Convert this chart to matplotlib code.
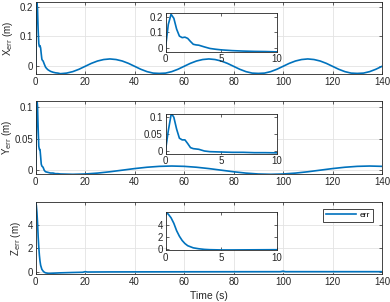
import matplotlib
matplotlib.use("Agg")
import matplotlib.pyplot as plt
import numpy as np

plt.rcParams['font.family'] = ['Liberation Sans', 'DejaVu Sans']

# ---- data ----
t_dense = [0, 0.25, 0.5, 0.75, 1.0, 1.25, 1.5, 1.75, 2.0, 2.25, 2.5, 2.75, 3.0,
           3.5, 4.0, 4.5, 5.0, 6.0, 7.0, 8.0, 9.0]
x_dense = [0.0, 0.15, 0.216, 0.19, 0.12, 0.075, 0.065, 0.068, 0.06, 0.04, 0.022,
           0.018, 0.016, 0.005, -0.005, -0.010, -0.014, -0.019, -0.022, -0.024, -0.025]
t_x_tail = [10, 12.5, 15, 17.5, 20, 22.5, 25, 27.5, 30, 32.5, 35, 37.5, 40, 42.5, 45, 47.5,
            50, 52.5, 55, 57.5, 60, 62.5, 65, 67.5, 70, 72.5, 75, 77.5, 80, 82.5, 85, 87.5,
            90, 92.5, 95, 97.5, 100, 102.5, 105, 107.5, 110, 112.5, 115, 117.5, 120, 122.5,
            125, 127.5, 130, 132.5, 135, 137.5, 140]
x_tail = [-0.027, -0.025, -0.020, -0.012, -0.002, 0.008, 0.016, 0.021, 0.023, 0.021, 0.016,
          0.008, -0.002, -0.012, -0.020, -0.025,
          -0.026, -0.025, -0.020, -0.012, -0.002, 0.008, 0.016, 0.021, 0.023, 0.021, 0.016,
          0.008, -0.002, -0.012, -0.020, -0.025,
          -0.026, -0.025, -0.020, -0.012, -0.002, 0.008, 0.016, 0.021, 0.023, 0.021, 0.016,
          0.008, -0.002, -0.012, -0.020, -0.025,
          -0.026, -0.025, -0.020, -0.012, -0.002]

t_y = [0, 0.25, 0.5, 0.6, 0.75, 1.0, 1.25, 1.5, 1.75, 2.0, 2.25, 2.5, 3.0, 3.5, 4.0,
       5.0, 6.0, 7.0, 8.0, 9.0, 10, 15, 20, 25, 30, 35, 40, 45, 50, 55, 60, 65, 70, 75,
       80, 85, 90, 95, 100, 105, 110, 115, 120, 125, 130, 135, 140]
y_err = [0.002, 0.06, 0.107, 0.108, 0.10, 0.065, 0.038, 0.033, 0.033, 0.022, 0.010, 0.007,
         0.005, 0.0, -0.002, -0.003, -0.004, -0.004, -0.005, -0.005, -0.0055,
         -0.006, -0.0055, -0.0041, -0.0020, 0.0005, 0.0030, 0.0051, 0.0065, 0.007, 0.0065,
         0.0051, 0.0030, 0.0005, -0.0020, -0.0041, -0.0055, -0.006, -0.0055, -0.0041,
         -0.0020, 0.0005, 0.0030, 0.0051, 0.0065, 0.007, 0.0065]

t_z = [0, 0.25, 0.5, 0.75, 1.0, 1.25, 1.5, 1.75, 2.0, 2.5, 3.0, 3.5, 4.0, 5.0, 6.0, 7.0,
       8.0, 10, 15, 19, 20, 21, 30, 60, 99, 100, 101, 140]
z_err = [6.0, 5.7, 5.1, 4.2, 3.0, 2.1, 1.4, 0.9, 0.55, 0.2, 0.05, -0.05, -0.1, -0.14, -0.14,
         -0.13, -0.12, -0.1, -0.07, -0.05, 0.0, -0.03, -0.02, -0.01, 0.0, 0.04, 0.0, 0.0]

t_x = t_dense + t_x_tail
x_err = x_dense + x_tail

labels = ['X$_{\\rm err}$ (m)', 'Y$_{\\rm err}$ (m)', 'Z$_{\\rm err}$ (m)']
yticks_list = [[0, 0.1, 0.2], [0, 0.05, 0.1], [0, 2, 4]]
ytick_labels = [['0', '0.1', '0.2'], ['0', '0.05', '0.1'], ['0', '2', '4']]
xticks_main = [0, 20, 40, 60, 80, 100, 120, 140]
xticks_inset = [0, 5, 10]
main_ylims = [(-0.028, 0.216), (-0.006, 0.109), (-0.2, 5.95)]
inset_ylims = [(-0.026, 0.222), (-0.008, 0.109), (-0.15, 6.1)]
legend_label = 'err'

# ---- styling ----
W, H = 390, 302
fig = plt.figure(figsize=(W / 100, H / 100), dpi=100)
blue = '#0072BD'
axcol = '#262626'
fs = 7

main_pos = [[0.0915, 0.755, 0.888, 0.2384],
            [0.0915, 0.4228, 0.888, 0.2427],
            [0.0915, 0.0927, 0.888, 0.2374]]
inset_pos = [[0.4244, 0.8288, 0.2846, 0.127],
             [0.4244, 0.4911, 0.2846, 0.1305],
             [0.4244, 0.1722, 0.2846, 0.1268]]
label_x = [-0.0598, -0.0625, -0.0367]

series = [(t_x, x_err), (t_y, y_err), (t_z, z_err)]


def style(ax, grid):
    for s in ax.spines.values():
        s.set_color(axcol)
        s.set_linewidth(0.6)
    ax.tick_params(direction='in', length=2.5, width=0.5, colors=axcol,
                   labelsize=fs, top=True, right=True, pad=2)
    if grid:
        ax.grid(True, color='#e3e3e3', linewidth=0.6)
        ax.set_axisbelow(True)


for i in range(3):
    t, v = series[i]
    ax = fig.add_axes(main_pos[i])
    ax.plot(t, v, color=blue, lw=1.2, label=legend_label)
    ax.set_xlim(0, 140)
    ax.set_ylim(*main_ylims[i])
    ax.set_xticks(xticks_main)
    ax.set_yticks(yticks_list[i])
    ax.set_yticklabels(ytick_labels[i])
    style(ax, True)
    ax.set_ylabel(labels[i], fontsize=fs, color=axcol)
    ax.yaxis.set_label_coords(label_x[i], 0.5)
    if i == 2:
        ax.set_xlabel('Time (s)', fontsize=fs + 0.5, color=axcol, labelpad=3)
        leg = ax.legend(loc='upper right', fontsize=fs - 1, handlelength=3.6,
                        handletextpad=0.4, fancybox=False, edgecolor=axcol,
                        framealpha=1, borderpad=0.35,
                        bbox_to_anchor=(0.985, 0.97))
        leg.get_frame().set_linewidth(0.6)

    axi = fig.add_axes(inset_pos[i])
    axi.plot(t, v, color=blue, lw=1.2)
    axi.set_xlim(0, 10)
    axi.set_ylim(*inset_ylims[i])
    axi.set_xticks(xticks_inset)
    axi.set_yticks(yticks_list[i])
    axi.set_yticklabels(ytick_labels[i])
    axi.set_facecolor('white')
    style(axi, False)

fig.savefig('out.png', dpi=100)
